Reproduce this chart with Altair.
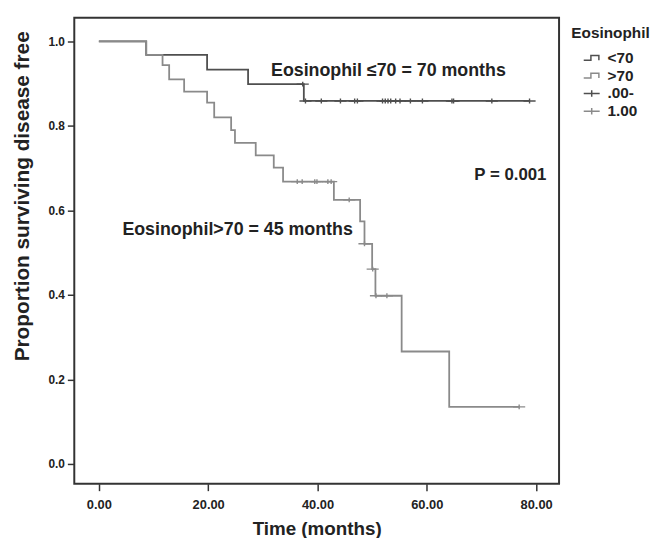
import altair as alt
import pandas as pd

# ---- data ----
groups = ["<70", ">70"]
censor_labels = [".00-", "1.00"]

g1_t = [0, 8.66, 19.8, 27.3, 37.5, 78.8]
g1_v = [1.0, 0.968, 0.933, 0.899, 0.859, 0.859]

g2_t = [0, 8.66, 11.65, 12.86, 15.6, 19.8, 21.1, 24.2, 24.9, 28.7, 32.0, 33.7,
        43.0, 47.8, 48.6, 50.0, 50.6, 55.4, 64.1, 76.9]
g2_v = [1.0, 0.968, 0.944, 0.910, 0.881, 0.855, 0.820, 0.790, 0.760, 0.730, 0.701, 0.668,
        0.625, 0.574, 0.521, 0.461, 0.398, 0.266, 0.135, 0.135]

c1_t = [37.3, 37.8, 40.7, 44.2, 46.8, 47.3, 51.9, 52.4, 52.9, 53.4, 54.3, 55.1,
        57.0, 59.2, 64.6, 64.9, 71.9, 78.8]
c1_v = [0.899] + [0.859] * 17

c2_t = [36.3, 37.2, 39.5, 39.9, 41.9, 42.5, 45.8, 48.6, 50.1, 50.7, 52.7, 76.9]
c2_v = [0.668] * 6 + [0.625, 0.521, 0.461, 0.398, 0.398, 0.135]

ann_text = ["Eosinophil \u226470 = 70 months", "Eosinophil>70 = 45 months"]
ann_t = [31.5, 4.3]
ann_v = [0.93, 0.553]

p_text = ["P = 0.001"]
p_t = [68.7]
p_v = [0.684]

x_ticks = [0, 20, 40, 60, 80]
y_ticks = [0, 0.2, 0.4, 0.6, 0.8, 1.0]

# ---- tables ----
curves = pd.DataFrame(
    [{"grp": groups[0], "t": t, "v": v, "i": i} for i, (t, v) in enumerate(zip(g1_t, g1_v))]
    + [{"grp": groups[1], "t": t, "v": v, "i": i} for i, (t, v) in enumerate(zip(g2_t, g2_v))]
)
cens = pd.DataFrame(
    [{"grp": censor_labels[0], "t": t, "v": v} for t, v in zip(c1_t, c1_v)]
    + [{"grp": censor_labels[1], "t": t, "v": v} for t, v in zip(c2_t, c2_v)]
)
ann = pd.DataFrame({"text": ann_text, "t": ann_t, "v": ann_v})
pdf = pd.DataFrame({"text": p_text, "t": p_t, "v": p_v})

FONT = "Liberation Sans"
DARK = "#4f4f4f"
LIGHT = "#8a8a8a"
domain = groups + censor_labels
color_scale = alt.Scale(domain=domain, range=[DARK, LIGHT, DARK, LIGHT])
STEP = "M-1,0.3H-0.1V-0.3H0.9V0.3"
PLUS = "M-1,0H1M0,-0.4V0.4"
shape_scale = alt.Scale(domain=domain, range=[STEP, STEP, PLUS, PLUS])

legend = alt.Legend(
    title="Eosinophil", orient="none", legendX=502, legendY=8,
    titleFont=FONT, titleFontSize=15.5, titleFontWeight="bold", titleColor="#222222",
    titleAnchor="middle", titlePadding=8,
    labelFont=FONT, labelFontSize=15.5, labelFontWeight="bold", labelColor="#222222",
    labelOffset=7, symbolSize=260, symbolStrokeWidth=1.5,
    symbolFillColor="transparent", rowPadding=0,
)

x_enc = alt.X("t:Q", scale=alt.Scale(domain=[-4.5, 84.2], nice=False, zero=False),
              axis=alt.Axis(values=x_ticks, format=".2f", title="Time (months)",
                            titlePadding=8))
y_enc = alt.Y("v:Q", scale=alt.Scale(domain=[-0.047, 1.056], nice=False, zero=False),
              axis=alt.Axis(values=y_ticks, format=".1f",
                            title="Proportion surviving disease free",
                            titleX=-52, titleY=180, titleBaseline="middle"))

lines = alt.Chart(curves).mark_line(interpolate="step-after", strokeWidth=1.8).encode(
    x=x_enc, y=y_enc,
    color=alt.Color("grp:N", scale=color_scale, legend=legend),
    order="i:Q",
)
points = alt.Chart(cens).mark_point(filled=False, strokeWidth=1.4, size=150, opacity=1).encode(
    x="t:Q", y="v:Q",
    color=alt.Color("grp:N", scale=color_scale, legend=legend),
    shape=alt.Shape("grp:N", scale=shape_scale, legend=legend),
)
texts = alt.Chart(ann).mark_text(
    align="left", baseline="middle", font=FONT, fontSize=18, fontWeight="bold", color="#222222"
).encode(x="t:Q", y="v:Q", text="text:N")
ptext = alt.Chart(pdf).mark_text(
    align="left", baseline="middle", font=FONT, fontSize=17, fontWeight="bold", color="#222222"
).encode(x="t:Q", y="v:Q", text="text:N")

chart = alt.layer(lines, points, texts, ptext).properties(
    width=490, height=471,
    autosize=alt.AutoSizeParams(type="none"),
    padding={"left": 67, "top": 7, "right": 99, "bottom": 53},
).configure_view(
    stroke="#333333", strokeWidth=2
).configure_axis(
    domain=False, grid=False, tickColor="#333333", tickWidth=1.5, tickSize=7,
    labelFont=FONT, labelFontWeight="bold", labelColor="#222222",
    titleFont=FONT, titleFontWeight="bold", titleColor="#222222",
).configure_axisX(
    labelFontSize=13, labelPadding=8, titleFontSize=19
).configure_axisY(
    labelFontSize=12, labelPadding=3, titleFontSize=21
)

chart.save("out.html", embed_options={"renderer": "svg", "actions": False})
